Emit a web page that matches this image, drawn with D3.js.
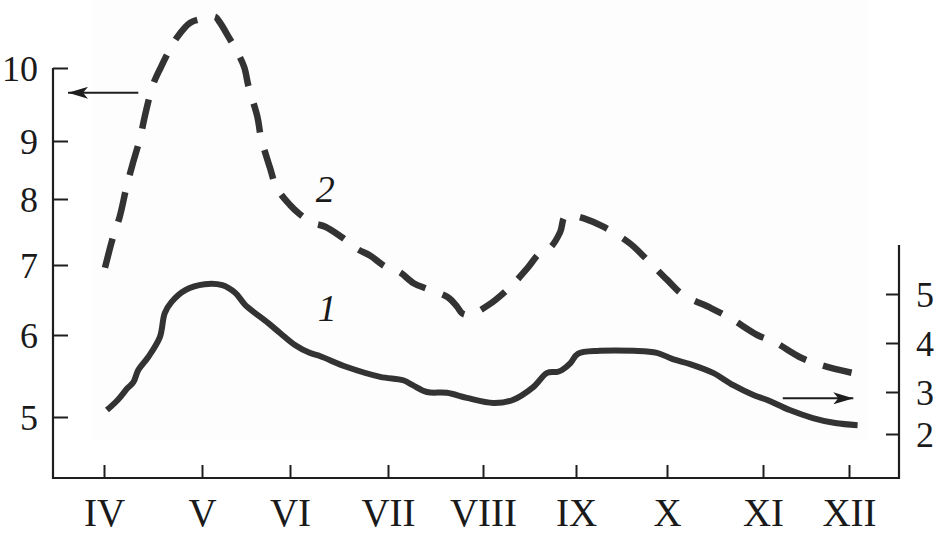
<!DOCTYPE html>
<html>
<head>
<meta charset="utf-8">
<script src="https://cdn.jsdelivr.net/npm/d3@7/dist/d3.min.js"></script>
<style>
  html, body { margin: 0; padding: 0; background: #fff; }
  svg { display: block; }
  text { font-family: "Liberation Serif", "Times New Roman", serif; fill: #1a1a1a; }
</style>
</head>
<body>
<svg id="chart" width="937" height="539"></svg>
<script>
// ---- Data ----
const monthTicks = [4, 5, 6, 7, 8, 9, 10, 11, 12];
const monthLabels = ["IV", "V", "VI", "VII", "VIII", "IX", "X", "XI", "XII"];
const leftTicks = [5, 6, 7, 8, 9, 10];
const rightTicks = [2, 3, 4, 5];

// Curve 2 (dashed, left axis)
const curve2Month = [4.01, 4.09, 4.16, 4.23, 4.29, 4.37, 4.42, 4.50, 4.58, 4.67, 4.74, 4.88, 5.03, 5.15, 5.20,
  5.31, 5.40, 5.48, 5.53, 5.63, 5.67, 5.77, 5.85, 6.00, 6.10, 6.23, 6.36, 6.53, 6.69, 6.82, 6.97,
  7.12, 7.27, 7.41, 7.63, 7.73, 7.78, 7.86, 8.06, 8.31, 8.48, 8.61, 8.72, 8.83, 8.88, 8.99, 9.08,
  9.30, 9.59, 9.76, 10.00, 10.17, 10.45, 10.66, 10.94, 11.14, 11.45, 11.69, 12.03];
const curve2Value = [6.96, 7.41, 7.73, 8.21, 8.59, 9.05, 9.36, 9.77, 10.01, 10.25, 10.41, 10.62, 10.68, 10.70, 10.63,
  10.41, 10.22, 10.01, 9.74, 9.33, 9.05, 8.55, 8.19, 7.91, 7.77, 7.64, 7.58, 7.42, 7.24, 7.14, 6.98,
  6.90, 6.74, 6.66, 6.54, 6.40, 6.31, 6.29, 6.43, 6.71, 6.96, 7.18, 7.26, 7.50, 7.73, 7.74, 7.71,
  7.58, 7.33, 7.11, 6.79, 6.57, 6.39, 6.24, 6.00, 5.91, 5.72, 5.63, 5.54];

// Curve 1 (solid, right axis)
const curve1Month = [4.03, 4.14, 4.24, 4.30, 4.35, 4.45, 4.57, 4.62, 4.69, 4.83, 5.03, 5.23, 5.38, 5.49, 5.75,
  5.89, 6.05, 6.20, 6.31, 6.58, 6.92, 7.16, 7.26, 7.41, 7.62, 7.83, 8.11, 8.32, 8.54, 8.69, 8.80,
  8.85, 8.94, 9.02, 9.26, 9.63, 9.89, 10.06, 10.24, 10.48, 10.69, 10.90, 11.05, 11.31, 11.58, 11.84, 12.10];
const curve1Value = [2.57, 2.81, 3.08, 3.20, 3.45, 3.71, 4.12, 4.61, 4.84, 5.08, 5.20, 5.18, 5.02, 4.78, 4.41,
  4.20, 3.96, 3.80, 3.73, 3.51, 3.31, 3.24, 3.14, 3.00, 2.98, 2.86, 2.74, 2.81, 3.10, 3.39, 3.41,
  3.45, 3.59, 3.78, 3.84, 3.84, 3.80, 3.67, 3.57, 3.39, 3.14, 2.93, 2.81, 2.57, 2.38, 2.26, 2.21];

const curveLabels = [{ text: "2", m: 6.36, v: 7.95 }, { text: "1", m: 6.38, v: 4.45, axis: "right" }];

// ---- Layout ----
const svg = d3.select("#chart");
const axisLeftX = 53, axisRightX = 899, axisBottomY = 478, axisLeftTop = 68, axisRightTop = 245;

// piecewise scales (hand-drawn axes in the original are not evenly spaced)
const x = d3.scaleLinear().domain(monthTicks).range([104, 202, 290, 388, 483, 576, 667, 763, 849]);
const yL = d3.scaleLinear().domain(leftTicks).range([417, 335, 265, 199, 141, 68]);
const yR = d3.scaleLinear().domain(rightTicks).range([434, 392, 343, 294]);

// faint background panel
svg.append("rect").attr("x", 92).attr("y", 0).attr("width", 776).attr("height", 440).attr("fill", "#fdfdfd");

const ink = "#1e1e1e";
const serif = "Liberation Serif, Times New Roman, serif";

// Axes (ticks + labels via d3 axes)
const gB = svg.append("g").attr("transform", `translate(0,${axisBottomY})`)
  .call(d3.axisBottom(x).tickValues(monthTicks).tickFormat((d, i) => monthLabels[i]).tickSize(-13).tickPadding(20));
const gL = svg.append("g").attr("transform", `translate(${axisLeftX},0)`)
  .call(d3.axisLeft(yL).tickValues(leftTicks).tickFormat(d3.format("d")).tickSize(-15).tickPadding(15));
const gR = svg.append("g").attr("transform", `translate(${axisRightX},0)`)
  .call(d3.axisRight(yR).tickValues(rightTicks).tickFormat(d3.format("d")).tickSize(-13).tickPadding(17));

[gB, gL, gR].forEach(g => {
  g.attr("font-family", serif);
  g.select(".domain").remove();
  g.selectAll(".tick line").attr("stroke", ink).attr("stroke-width", 2);
  g.selectAll(".tick text").attr("font-family", serif).attr("fill", "#1a1a1a");
});
gB.selectAll(".tick text").attr("font-size", 39);
gL.selectAll(".tick text").attr("font-size", 36).attr("dy", "0.34em");
gR.selectAll(".tick text").attr("font-size", 36).attr("dy", "0.34em");

// Axis lines
const frame = d3.path();
frame.moveTo(axisLeftX, axisLeftTop);
frame.lineTo(axisLeftX, axisBottomY);
frame.lineTo(axisRightX, axisBottomY);
frame.lineTo(axisRightX, axisRightTop);
svg.append("path").attr("d", frame.toString()).attr("fill", "none").attr("stroke", ink).attr("stroke-width", 2.2);

// Curves
const lineL = d3.line().x(d => x(d[0])).y(d => yL(d[1])).curve(d3.curveCatmullRom.alpha(0.5));
const lineR = d3.line().x(d => x(d[0])).y(d => yR(d[1])).curve(d3.curveCatmullRom.alpha(0.5));

svg.append("path")
  .attr("d", lineL(d3.zip(curve2Month, curve2Value)))
  .attr("fill", "none").attr("stroke", "#333").attr("stroke-width", 6.5)
  .attr("stroke-dasharray", "30,18").attr("stroke-linecap", "butt").attr("stroke-linejoin", "round");

svg.append("path")
  .attr("d", lineR(d3.zip(curve1Month, curve1Value)))
  .attr("fill", "none").attr("stroke", "#333").attr("stroke-width", 6)
  .attr("stroke-linecap", "butt").attr("stroke-linejoin", "round");

// Curve labels
svg.selectAll("text.curve-label").data(curveLabels).enter().append("text")
  .attr("class", "curve-label")
  .attr("x", d => x(d.m))
  .attr("y", d => d.axis === "right" ? yR(d.v) : yL(d.v))
  .attr("text-anchor", "middle").attr("font-style", "italic").attr("font-size", 38)
  .attr("font-family", serif)
  .text(d => d.text);

// Arrows indicating the axis of each curve
const defs = svg.append("defs");
defs.append("marker").attr("id", "head").attr("viewBox", "0 0 20 12").attr("refX", 20).attr("refY", 6)
  .attr("markerWidth", 20).attr("markerHeight", 12).attr("markerUnits", "userSpaceOnUse").attr("orient", "auto")
  .append("path").attr("d", "M0,0 L20,6 L0,12 L5,6 Z").attr("fill", ink);

const arrows = [
  { x1: x(4.35), y1: yL(9.66), x2: axisLeftX + 15, y2: yL(9.66) },
  { x1: x(11.23), y1: yR(2.85), x2: x(12.05), y2: yR(2.85) }
];
svg.selectAll("line.arrow").data(arrows).enter().append("line")
  .attr("class", "arrow")
  .attr("x1", d => d.x1).attr("y1", d => d.y1).attr("x2", d => d.x2).attr("y2", d => d.y2)
  .attr("stroke", ink).attr("stroke-width", 2).attr("marker-end", "url(#head)");
</script>
</body>
</html>
